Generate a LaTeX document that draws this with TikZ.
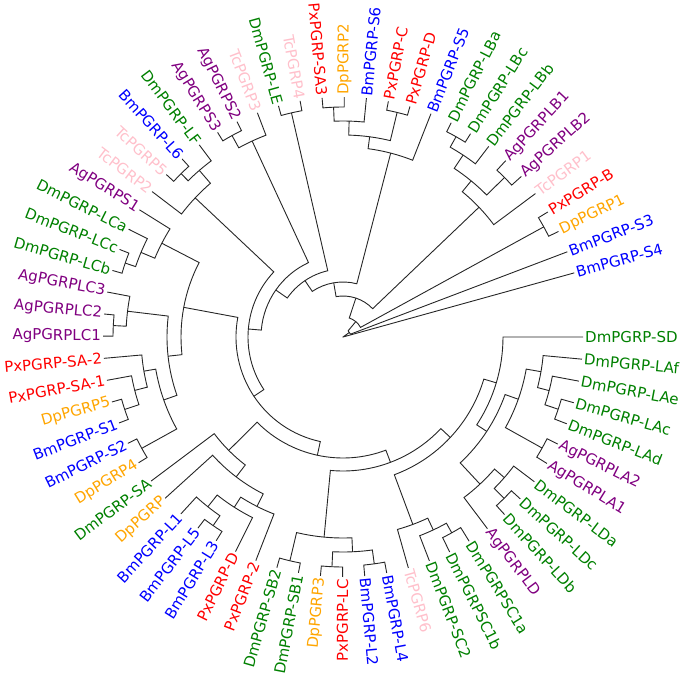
\documentclass[tikz,border=0pt]{standalone}
\usepackage{fontspec}
\newfontfamily\lblfont{DejaVu Sans}
\usepackage{tikz}
\definecolor{DmGreen}{RGB}{0,128,0}
\definecolor{AgPurple}{RGB}{128,0,128}
\definecolor{TcPink}{RGB}{255,192,203}
\definecolor{PxRed}{RGB}{255,0,0}
\definecolor{DpOrange}{RGB}{255,165,0}
\definecolor{BmBlue}{RGB}{0,0,255}
% leaf: id, slot, label, species style
\newcommand\leaf[4]{%
  \expandafter\xdef\csname m@#1\endcsname{#2}%
  \pgfmathsetmacro\lfang{-5.3*#2}%
  \pgfmathtruncatemacro\lfflip{and(\lfang < -90, \lfang > -270)}%
  \coordinate (#1) at (\lfang:240pt);
  \ifnum\lfflip=1 \pgfmathsetmacro\lfrot{\lfang+180}%
    \node[lbl,#4,anchor=east,rotate=\lfrot] (t#1) at (\lfang:240pt) {#3};%
  \else \node[lbl,#4,anchor=west,rotate=\lfang] (t#1) at (\lfang:240pt) {#3};\fi}
% clade: id, child, child, radius
\newcommand\clade[4]{%
  \pgfmathsetmacro\clda{-5.3*\csname m@#2\endcsname}%
  \pgfmathsetmacro\cldb{-5.3*\csname m@#3\endcsname}%
  \pgfmathsetmacro\cldm{(\csname m@#2\endcsname+\csname m@#3\endcsname)/2}%
  \expandafter\xdef\csname m@#1\endcsname{\cldm}%
  \coordinate (#1) at ({-5.3*\cldm}:#4pt);
  \draw[branch] (#2) -- (\clda:#4pt) arc[start angle=\clda,end angle=\cldb,radius=#4pt] -- (#3);}

\begin{document}
\begin{tikzpicture}[branch/.style={draw=black!85,line width=0.9pt},
  lbl/.style={font=\lblfont\fontsize{15}{18}\selectfont,inner sep=2pt},
  dm/.style={text=DmGreen},ag/.style={text=AgPurple},tc/.style={text=TcPink},
  px/.style={text=PxRed},dp/.style={text=DpOrange},bm/.style={text=BmBlue}]
\useasboundingbox (-343pt,-341pt) rectangle (342pt,337pt);
\leaf{SD}{0}{DmPGRP-SD}{dm}\leaf{LAf}{1}{DmPGRP-LAf}{dm}\leaf{LAe}{2}{DmPGRP-LAe}{dm}
\leaf{LAc}{3}{DmPGRP-LAc}{dm}\leaf{LAd}{4}{DmPGRP-LAd}{dm}\leaf{AgLA2}{5}{AgPGRPLA2}{ag}
\leaf{AgLA1}{6}{AgPGRPLA1}{ag}\leaf{LDa}{7}{DmPGRP-LDa}{dm}\leaf{LDc}{8}{DmPGRP-LDc}{dm}
\leaf{LDb}{9}{DmPGRP-LDb}{dm}\leaf{AgLD}{10}{AgPGRPLD}{ag}\leaf{SC1a}{11}{DmPGRPSC1a}{dm}
\leaf{SC1b}{12}{DmPGRPSC1b}{dm}\leaf{SC2}{13}{DmPGRP-SC2}{dm}\leaf{Tc6}{14}{TcPGRP6}{tc}
\leaf{BmL4}{15}{BmPGRP-L4}{bm}\leaf{BmL2}{16}{BmPGRP-L2}{bm}\leaf{PxLC}{17}{PxPGRP-LC}{px}
\leaf{Dp3}{18}{DpPGRP3}{dp}\leaf{SB1}{19}{DmPGRP-SB1}{dm}\leaf{SB2}{20}{DmPGRP-SB2}{dm}
\leaf{Px2}{21}{PxPGRP-2}{px}\leaf{PxD}{22}{PxPGRP-D}{px}\leaf{BmL3}{23}{BmPGRP-L3}{bm}
\leaf{BmL5}{24}{BmPGRP-L5}{bm}\leaf{BmL1}{25}{BmPGRP-L1}{bm}\leaf{Dp}{26}{DpPGRP}{dp}
\leaf{SA}{27}{DmPGRP-SA}{dm}\leaf{Dp4}{28}{DpPGRP4}{dp}\leaf{BmS2}{29}{BmPGRP-S2}{bm}
\leaf{BmS1}{30}{BmPGRP-S1}{bm}\leaf{Dp5}{31}{DpPGRP5}{dp}\leaf{PxSA1}{32}{PxPGRP-SA-1}{px}
\leaf{PxSA2}{33}{PxPGRP-SA-2}{px}\leaf{AgLC1}{34}{AgPGRPLC1}{ag}\leaf{AgLC2}{35}{AgPGRPLC2}{ag}
\leaf{AgLC3}{36}{AgPGRPLC3}{ag}\leaf{LCb}{37}{DmPGRP-LCb}{dm}\leaf{LCc}{38}{DmPGRP-LCc}{dm}
\leaf{LCa}{39}{DmPGRP-LCa}{dm}\leaf{AgS1}{40}{AgPGRPS1}{ag}\leaf{Tc2}{41}{TcPGRP2}{tc}
\leaf{Tc5}{42}{TcPGRP5}{tc}\leaf{BmL6}{43}{BmPGRP-L6}{bm}\leaf{LF}{44}{DmPGRP-LF}{dm}
\leaf{AgS3}{45}{AgPGRPS3}{ag}\leaf{AgS2}{46}{AgPGRPS2}{ag}\leaf{Tc3}{47}{TcPGRP3}{tc}
\leaf{LE}{48}{DmPGRP-LE}{dm}\leaf{Tc4}{49}{TcPGRP4}{tc}\leaf{PxSA3}{50}{PxPGRP-SA3}{px}
\leaf{Dp2}{51}{DpPGRP2}{dp}\leaf{BmS6}{52}{BmPGRP-S6}{bm}\leaf{PxC}{53}{PxPGRP-C}{px}
\leaf{PxDd}{54}{PxPGRP-D}{px}\leaf{BmS5}{55}{BmPGRP-S5}{bm}\leaf{LBa}{56}{DmPGRP-LBa}{dm}
\leaf{LBc}{57}{DmPGRP-LBc}{dm}\leaf{LBb}{58}{DmPGRP-LBb}{dm}\leaf{AgLB1}{59}{AgPGRPLB1}{ag}
\leaf{AgLB2}{60}{AgPGRPLB2}{ag}\leaf{Tc1}{61}{TcPGRP1}{tc}\leaf{PxB}{62}{PxPGRP-B}{px}
\leaf{Dp1}{63}{DpPGRP1}{dp}\leaf{BmS3}{64}{BmPGRP-S3}{bm}\leaf{BmS4}{65}{BmPGRP-S4}{bm}
\clade{LAcd}{LAc}{LAd}{227}\clade{LAecd}{LAe}{LAcd}{213}\clade{LAfg}{LAf}{LAecd}{201}
\clade{LAag}{AgLA2}{AgLA1}{228}\clade{LAx}{LAfg}{LAag}{186}
\clade{LDcb}{LDc}{LDb}{228}\clade{LDy}{LDa}{LDcb}{214}\clade{LDx}{LDy}{AgLD}{201}
\clade{Wn}{LAx}{LDx}{172}\clade{Vn}{SD}{Wn}{160}
\clade{SCba}{SC1a}{SC1b}{224}\clade{SCn}{SCba}{SC2}{213}\clade{TcSC}{SCn}{Tc6}{200}
\clade{Tn}{Vn}{TcSC}{147}
\clade{BmL24}{BmL4}{BmL2}{229}\clade{PxDp}{PxLC}{Dp3}{230}\clade{SBa}{BmL24}{PxDp}{215}
\clade{SBb}{SB1}{SB2}{230}\clade{SBn}{SBa}{SBb}{201}\clade{Sn}{Tn}{SBn}{134}
\clade{BmL35}{BmL3}{BmL5}{229}\clade{BmL135}{BmL35}{BmL1}{217}\clade{LPxD}{PxD}{BmL135}{202}
\clade{Lcl}{Px2}{LPxD}{190}\clade{Yn}{Lcl}{Dp}{176}\clade{Zn}{Yn}{SA}{161}\clade{Rn}{Sn}{Zn}{121}
\clade{DpBm}{Dp4}{BmS2}{230}\clade{BmDp}{BmS1}{Dp5}{230}\clade{SAa}{BmDp}{PxSA1}{215}
\clade{SAb}{SAa}{PxSA2}{202}\clade{SAn}{DpBm}{SAb}{190}
\clade{LC12}{AgLC1}{AgLC2}{230}\clade{LC123}{LC12}{AgLC3}{217}\clade{Ktwo}{SAn}{LC123}{176}
\clade{LCcb}{LCb}{LCc}{230}\clade{LCacb}{LCcb}{LCa}{219}\clade{LCAg}{LCacb}{AgS1}{204}
\clade{Kn}{Ktwo}{LCAg}{162}\clade{Qn}{Rn}{Kn}{107}
\clade{TcBm}{Tc5}{BmL6}{230}\clade{TcBmLF}{TcBm}{LF}{220}\clade{Tctwo}{Tc2}{TcBmLF}{203}
\clade{Pone}{Qn}{Tctwo}{95}
\clade{AgS32}{AgS3}{AgS2}{230}\clade{AgSc}{AgS32}{Tc3}{216}\clade{Ptwo}{Pone}{AgSc}{82}
\clade{LETc}{LE}{Tc4}{230}\clade{Pthree}{Ptwo}{LETc}{68}
\clade{SAthree}{PxSA3}{Dp2}{230}\clade{ESix}{SAthree}{BmS6}{216}\clade{PxCD}{PxC}{PxDd}{231}
\clade{EJ}{ESix}{PxCD}{202}\clade{En}{EJ}{BmS5}{190}\clade{Pfour}{Pthree}{En}{55}
\clade{LBac}{LBa}{LBc}{230}\clade{LBacb}{LBac}{LBb}{218}\clade{LBag}{AgLB1}{AgLB2}{227}
\clade{LBj}{LBacb}{LBag}{202}\clade{LBn}{LBj}{Tc1}{188}\clade{Pfive}{Pfour}{LBn}{41}
\clade{BD}{PxB}{Dp1}{229}\clade{Psix}{Pfive}{BD}{20}\clade{Pseven}{Psix}{BmS3}{8}
\clade{root}{Pseven}{BmS4}{0.01}
\end{tikzpicture}
\end{document}
